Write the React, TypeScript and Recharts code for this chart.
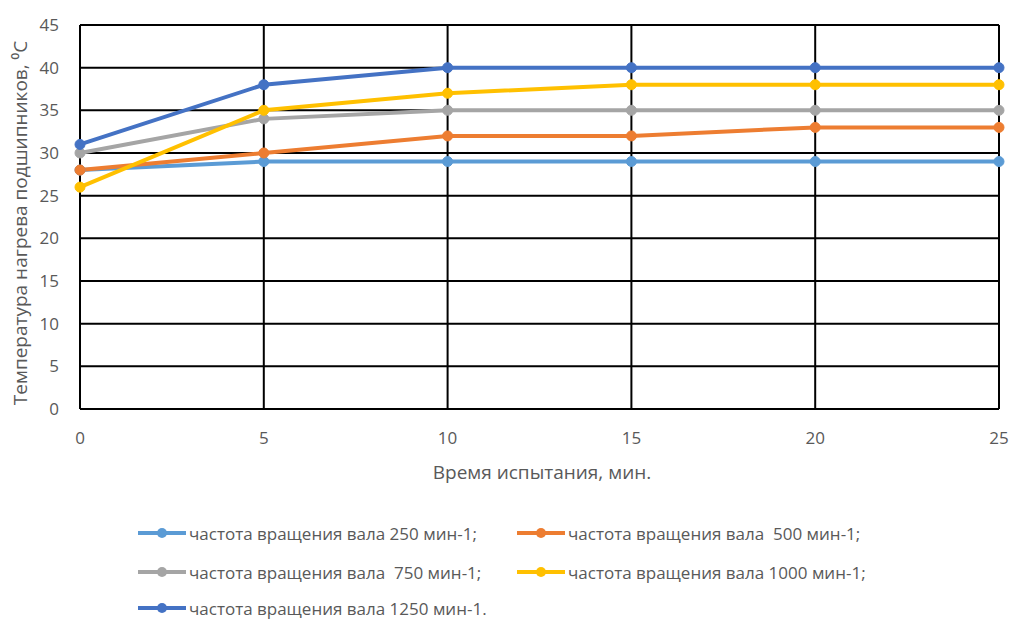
import React from "react";
import { LineChart, Line, XAxis, YAxis, CartesianGrid } from "recharts";

const times = [0, 5, 10, 15, 20, 25];
const s250 = [28, 29, 29, 29, 29, 29];
const s500 = [28, 30, 32, 32, 33, 33];
const s750 = [30, 34, 35, 35, 35, 35];
const s1000 = [26, 35, 37, 38, 38, 38];
const s1250 = [31, 38, 40, 40, 40, 40];
const yTicks = [0, 5, 10, 15, 20, 25, 30, 35, 40, 45];

const xTitle = "Время испытания, мин.";
const yTitle = "Температура нагрева подшипников, ⁰С";

const seriesNames = [
  "частота вращения вала 250 мин-1;",
  "частота вращения вала  500 мин-1;",
  "частота вращения вала  750 мин-1;",
  "частота вращения вала 1000 мин-1;",
  "частота вращения вала 1250 мин-1.",
];
const seriesKeys = ["s250", "s500", "s750", "s1000", "s1250"];
const seriesColors = ["#5B9BD5", "#ED7D31", "#A5A5A5", "#FFC000", "#4472C4"];

const data = times.map((t, i) => ({
  t,
  s250: s250[i],
  s500: s500[i],
  s750: s750[i],
  s1000: s1000[i],
  s1250: s1250[i],
}));

const FONT = "'Open Sans', sans-serif";
const TXT = "#595959";

const legendPos = [
  { left: 138, top: 533 },
  { left: 517, top: 533 },
  { left: 138, top: 572 },
  { left: 517, top: 572 },
  { left: 138, top: 608 },
];

export default function App() {
  return (
    <div style={{ position: "absolute", left: 0, top: 0, width: 1013, height: 619, background: "#fff", fontFamily: FONT }}>
      <LineChart width={1013} height={619} data={data} margin={{ top: 25, right: 14, bottom: 180, left: 0 }}>
        <CartesianGrid stroke="#000" strokeWidth={2} />
        <XAxis
          dataKey="t"
          type="number"
          domain={[0, 25]}
          ticks={times}
          height={30}
          tickLine={false}
          axisLine={{ stroke: "#000", strokeWidth: 2 }}
          tick={{ fill: TXT, fontSize: 17, fontFamily: FONT }}
          tickMargin={17}
        />
        <YAxis
          type="number"
          domain={[0, 45]}
          ticks={yTicks}
          width={80}
          tickLine={false}
          axisLine={{ stroke: "#000", strokeWidth: 2 }}
          tick={{ fill: TXT, fontSize: 17, fontFamily: FONT }}
          tickMargin={15}
        />
        {seriesKeys.map((k, i) => (
          <Line
            key={k}
            dataKey={k}
            stroke={seriesColors[i]}
            strokeWidth={4}
            dot={{ r: 5, fill: seriesColors[i], stroke: seriesColors[i], strokeWidth: 1 }}
            isAnimationActive={false}
          />
        ))}
      </LineChart>
      <svg width={1013} height={619} style={{ position: "absolute", left: 0, top: 0, pointerEvents: "none" }}>
        <text x={542} y={479} textAnchor="middle" fill={TXT} fontSize={19} fontFamily={FONT}>
          {xTitle}
        </text>
        <text
          x={0}
          y={0}
          transform="translate(27,223) rotate(-90)"
          textAnchor="middle"
          fill={TXT}
          fontSize={19}
          fontFamily={FONT}
        >
          {yTitle}
        </text>
      </svg>
      {seriesNames.map((name, i) => (
        <div
          key={name}
          style={{
            position: "absolute",
            left: legendPos[i].left,
            top: legendPos[i].top - 11,
            height: 22,
            display: "flex",
            alignItems: "center",
            whiteSpace: "pre",
            fontSize: 17,
            color: TXT,
          }}
        >
          <svg width={48} height={20} style={{ marginRight: 3 }}>
            <line x1={0} y1={10} x2={48} y2={10} stroke={seriesColors[i]} strokeWidth={4} />
            <circle cx={24} cy={10} r={5} fill={seriesColors[i]} />
          </svg>
          <span>{name}</span>
        </div>
      ))}
    </div>
  );
}
